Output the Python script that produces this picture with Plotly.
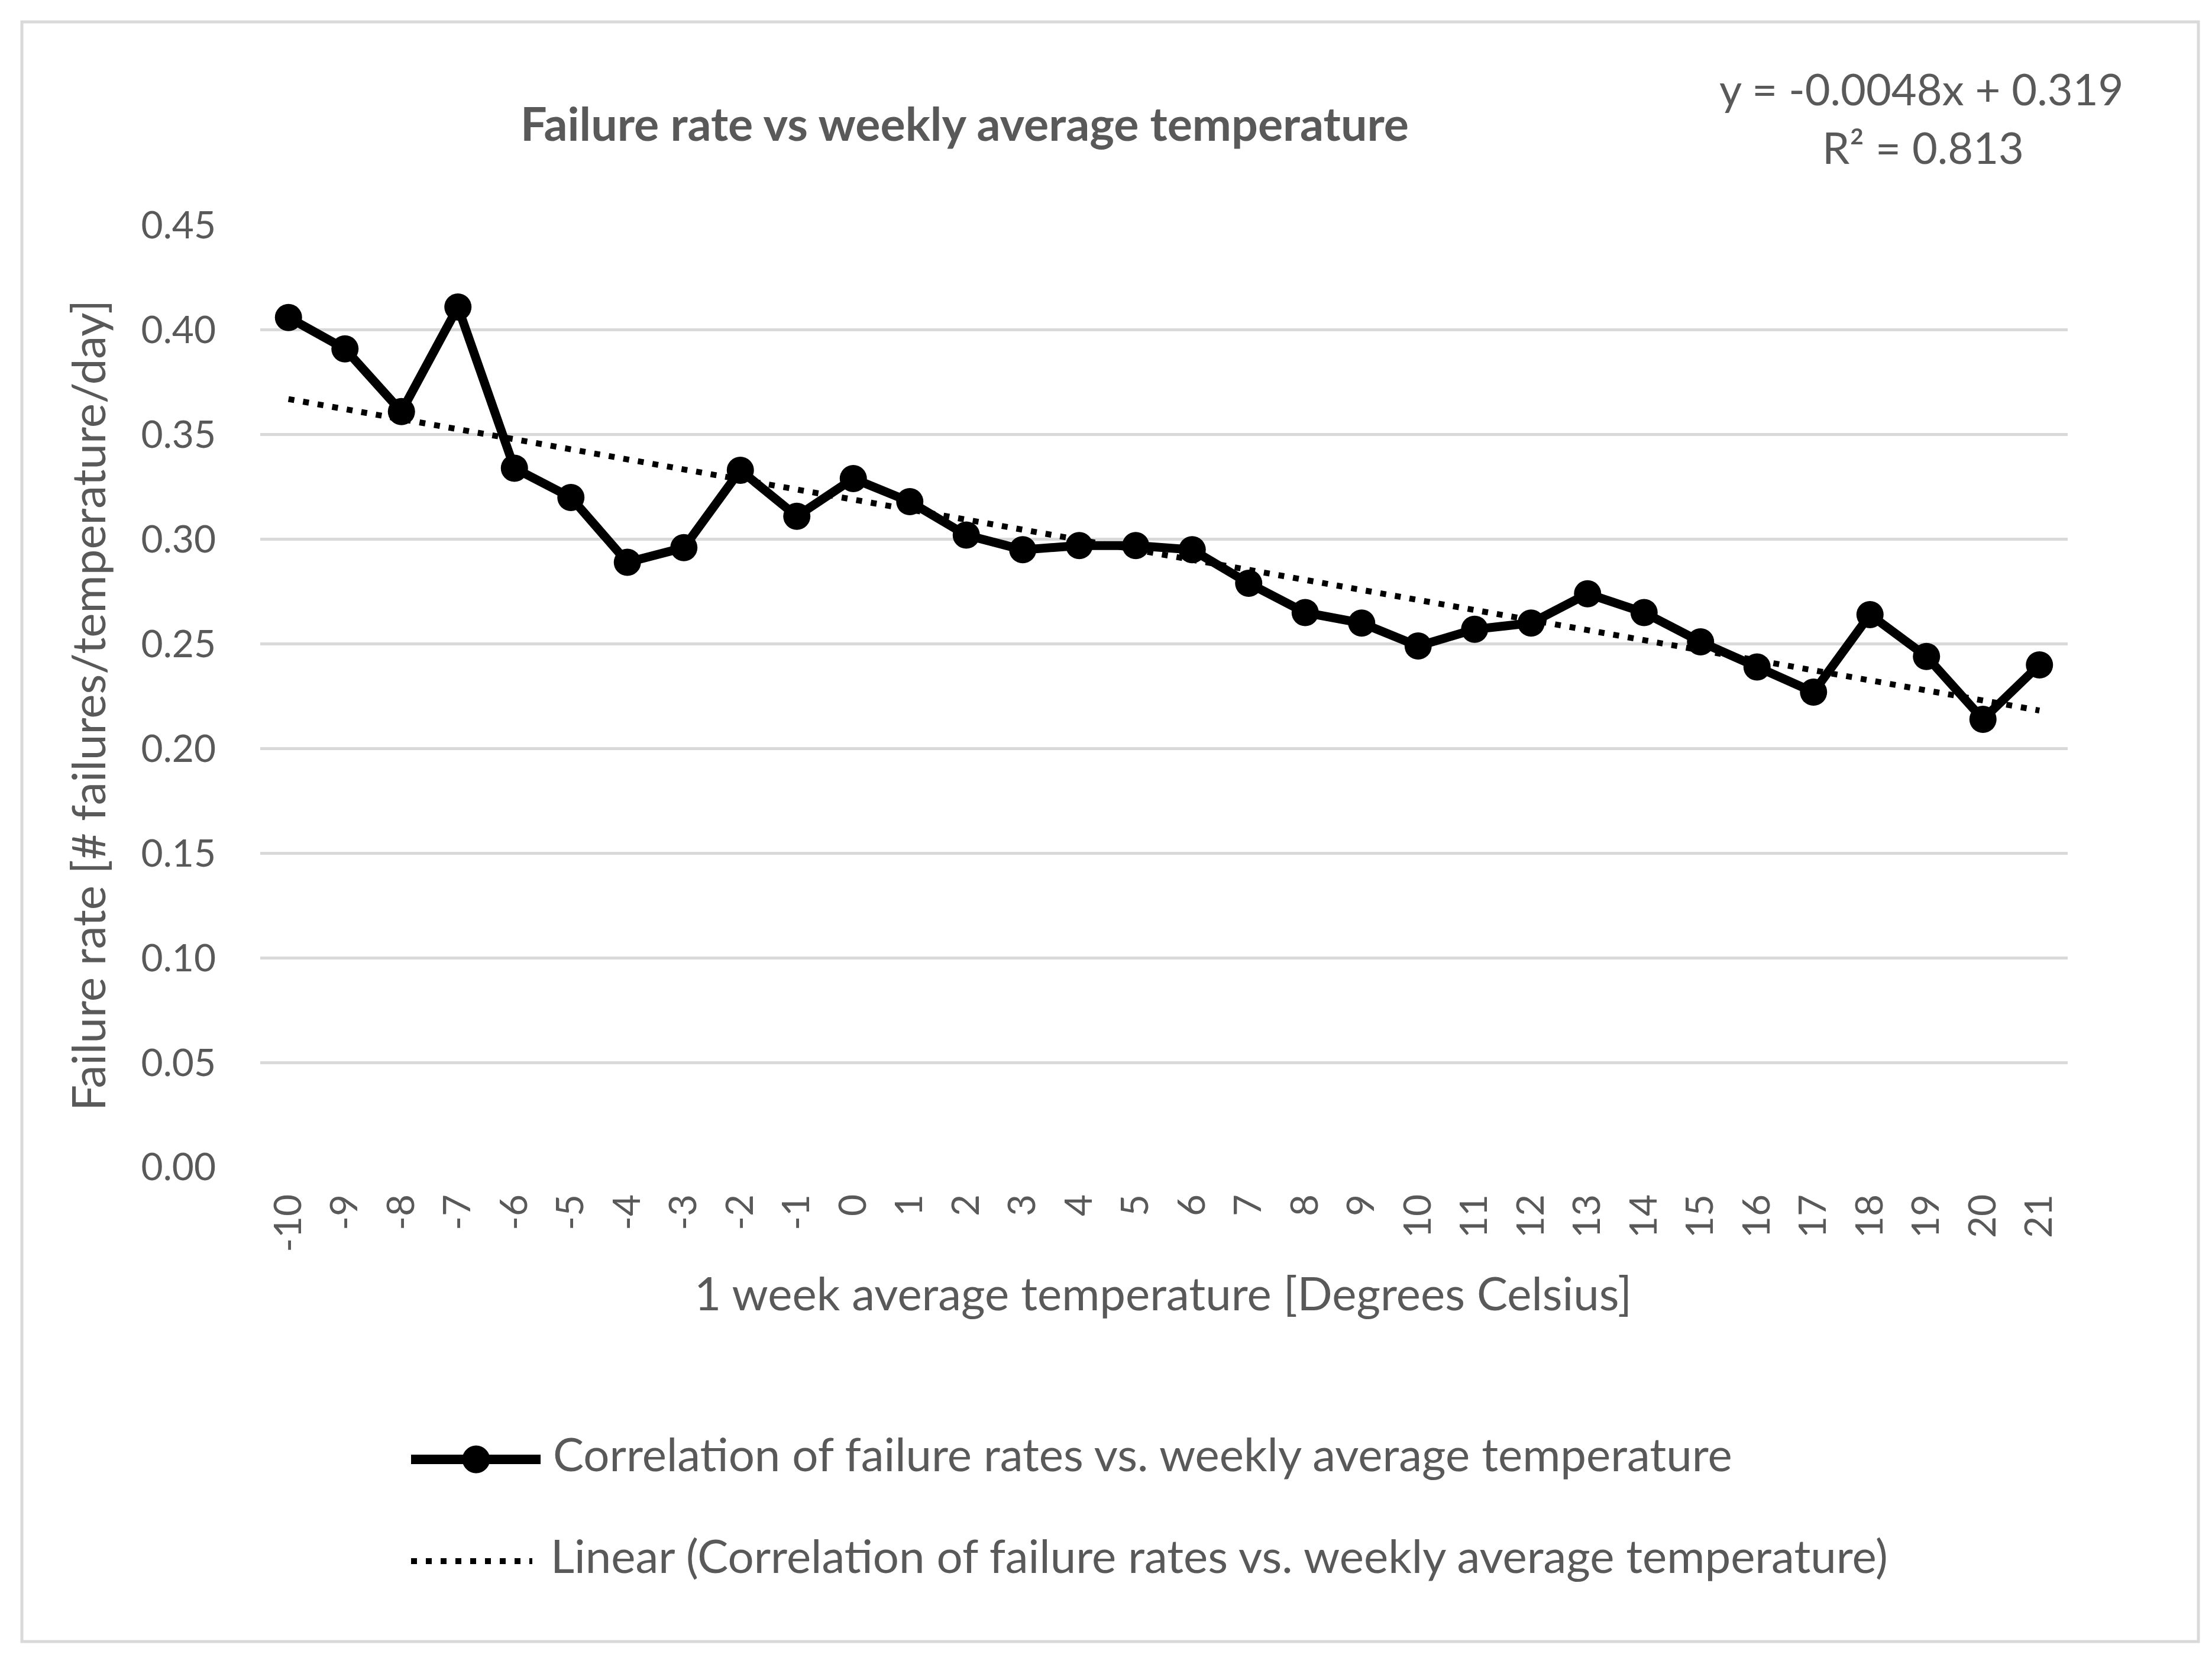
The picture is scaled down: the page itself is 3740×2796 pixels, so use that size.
import plotly.graph_objects as go

# ---------------- data ----------------
temperatures = list(range(-10, 22))
failure_rate = [0.406, 0.391, 0.361, 0.411, 0.334, 0.320, 0.289, 0.296, 0.333, 0.311,
                0.329, 0.318, 0.302, 0.295, 0.297, 0.297, 0.295, 0.279, 0.265, 0.260,
                0.249, 0.257, 0.260, 0.274, 0.265, 0.251, 0.239, 0.227, 0.264, 0.244,
                0.214, 0.240]
trend_slope = -0.0048
trend_intercept = 0.319
trend_r2 = 0.813
y_ticks = [0.00, 0.05, 0.10, 0.15, 0.20, 0.25, 0.30, 0.35, 0.40, 0.45]

series_name = "Correlation of failure rates vs. weekly average temperature"
trend_name = "Linear (Correlation of failure rates vs. weekly average temperature)"
chart_title = "Failure rate vs weekly average temperature"
x_title = "1 week average temperature [Degrees Celsius]"
y_title = "Failure rate [# failures/temperature/day]"
eq_text = "y = -0.0048x + 0.319"
r2_text = "R² = 0.813"

# ---------------- layout geometry (pixels) ----------------
W, H = 3740, 2796
L, R, T, B = 432, 3488, 373, 1965
FONT = "Lato"
TXT = "#595959"
GRID = "#d9d9d9"
FS = 78      # text
FS_TICK = 64  # numeric tick labels
FS_EQ = 74


def px(x):
    return (x - L) / (R - L)


def py(y):
    return (B - y) / (B - T)


cats = [str(t) for t in temperatures]
trend_vals = [trend_slope * t + trend_intercept for t in temperatures]

fig = go.Figure()
fig.add_trace(go.Scatter(
    x=cats, y=trend_vals, mode="lines", name=trend_name,
    line=dict(color="black", width=10, dash="10px,15px"),
    showlegend=False, hoverinfo="skip",
))
fig.add_trace(go.Scatter(
    x=cats, y=failure_rate, mode="lines+markers", name=series_name,
    line=dict(color="black", width=15),
    marker=dict(color="black", size=46),
    showlegend=False,
))

fig.update_layout(
    width=W, height=H,
    margin=dict(l=L, r=W - R, t=T, b=H - B, autoexpand=False),
    paper_bgcolor="white", plot_bgcolor="white",
    font=dict(family=FONT, size=FS, color=TXT),
    showlegend=False,
)
fig.update_xaxes(
    type="category", categoryorder="array", categoryarray=cats,
    range=[-0.5, len(cats) - 0.5], autorange=False,
    tickangle=-90, showgrid=False, zeroline=False, showline=False,
    ticks="", ticklabelstandoff=32,
    tickfont=dict(family=FONT, size=FS_TICK, color=TXT),
)
fig.update_yaxes(
    range=[0, 0.45], autorange=False, tickmode="array", tickvals=y_ticks, tickformat=".2f",
    showgrid=True, gridcolor=GRID, gridwidth=5, zeroline=False, showline=False,
    ticks="", ticklabelstandoff=74,
    tickfont=dict(family=FONT, size=FS_TICK, color=TXT),
)

annotations = [
    dict(text="<b>" + chart_title + "</b>", x=px(1623), y=py(200), font=dict(size=79)),
    dict(text=eq_text, x=px(3241), y=py(142), font=dict(size=FS_EQ)),
    dict(text=r2_text, x=px(3243), y=py(241), font=dict(size=FS_EQ)),
    dict(text=x_title, x=px(1958), y=py(2177), font=dict(size=FS)),
    dict(text=y_title, x=px(140), y=py(1185), textangle=-90, font=dict(size=FS)),
    dict(text=series_name, x=px(925), y=py(2449), xanchor="left", font=dict(size=FS)),
    dict(text=trend_name, x=px(921), y=py(2621), xanchor="left", font=dict(size=FS)),
]
for a in annotations:
    a.setdefault("xanchor", "center")
    a["font"].update(family=FONT, color=TXT)
    a.update(xref="paper", yref="paper", yanchor="middle", showarrow=False)
fig.update_layout(annotations=annotations)

shapes = [
    # outer chart border
    dict(type="rect", xref="paper", yref="paper", x0=px(29), x1=px(3709), y0=py(2767), y1=py(29),
         line=dict(color=GRID, width=5), fillcolor="rgba(0,0,0,0)", layer="below"),
    # legend symbol: line + marker
    dict(type="line", xref="paper", yref="paper", x0=px(687), x1=px(906), y0=py(2459), y1=py(2459),
         line=dict(color="black", width=16)),
    dict(type="circle", xref="paper", yref="paper", x0=px(774), x1=px(820), y0=py(2482), y1=py(2436),
         line=dict(color="black", width=1), fillcolor="black"),
    # legend symbol: dotted trend line
    dict(type="line", xref="paper", yref="paper", x0=px(687), x1=px(892), y0=py(2631), y1=py(2631),
         line=dict(color="black", width=10, dash="10px,15px")),
]
fig.update_layout(shapes=shapes)

fig.write_html("out.html")
